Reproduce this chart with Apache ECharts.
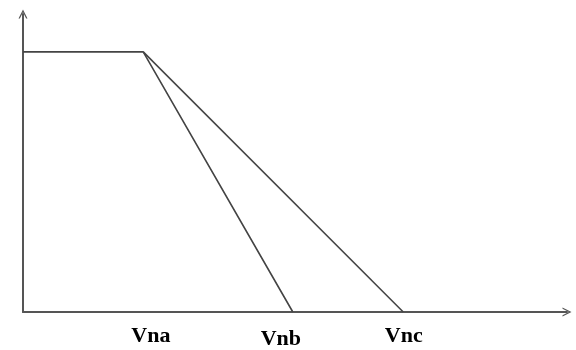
<!DOCTYPE html>
<html>
<head>
<meta charset="utf-8">
<script src="https://cdn.jsdelivr.net/npm/echarts@6/dist/echarts.min.js"></script>
<style>
  html, body { margin: 0; padding: 0; background: #fff; }
  #chart { width: 576px; height: 350px; }
</style>
</head>
<body>
<div id="chart"></div>
<script>
// plateau + two falling branches (x in 0..100, y in 0..100)
const plateau = [[0, 87.3], [22.1, 87.3]]
const branchB = [[22.1, 87.3], [49.6, 0]]
const branchC = [[22.1, 87.3], [69.9, 0]]
// tick labels under the x axis
const labelPos = [23.5, 47.4, 70.0]
const labelText = ['Vna', 'Vnb', 'Vnc']

const arrow = 'path://M5,0 L10,10 L8.5,10 L5,3 L1.5,10 L0,10 Z'
const axisColor = '#555'
const lineColor = '#444'
const labelFont = { fontFamily: 'Liberation Serif', fontWeight: 'bold', fontSize: 22, color: '#000' }

const myChart = echarts.init(document.getElementById('chart'), null, { renderer: 'canvas' })
myChart.setOption({
  animation: false,
  grid: { left: 23, right: 9, top: 14, bottom: 37 },
  xAxis: {
    type: 'value',
    min: 0,
    max: 100,
    axisLine: {
      lineStyle: { color: axisColor, width: 2 },
      symbol: ['none', arrow],
      symbolSize: [14, 9]
    },
    axisTick: { show: false },
    splitLine: { show: false },
    axisLabel: {
      customValues: labelPos,
      formatter: function (v) {
        const i = labelPos.indexOf(v)
        if (i < 0) return ''
        // Vnb sits a little lower in the original
        return i === 1 ? '{low|' + labelText[i] + '}' : '{n|' + labelText[i] + '}'
      },
      rich: {
        n: Object.assign({}, labelFont),
        low: Object.assign({ padding: [3, 0, 0, 0] }, labelFont)
      },
      margin: 13
    }
  },
  yAxis: {
    type: 'value',
    min: 0,
    max: 100,
    axisLine: {
      show: true,
      lineStyle: { color: axisColor, width: 2 },
      symbol: ['none', arrow],
      symbolSize: [14, 9]
    },
    axisTick: { show: false },
    splitLine: { show: false },
    axisLabel: { show: false }
  },
  series: [
    { type: 'line', data: plateau.concat([branchB[1]]), showSymbol: false, lineStyle: { color: lineColor, width: 1.6 } },
    { type: 'line', data: branchC, showSymbol: false, lineStyle: { color: lineColor, width: 1.6 } }
  ]
})
</script>
</body>
</html>
